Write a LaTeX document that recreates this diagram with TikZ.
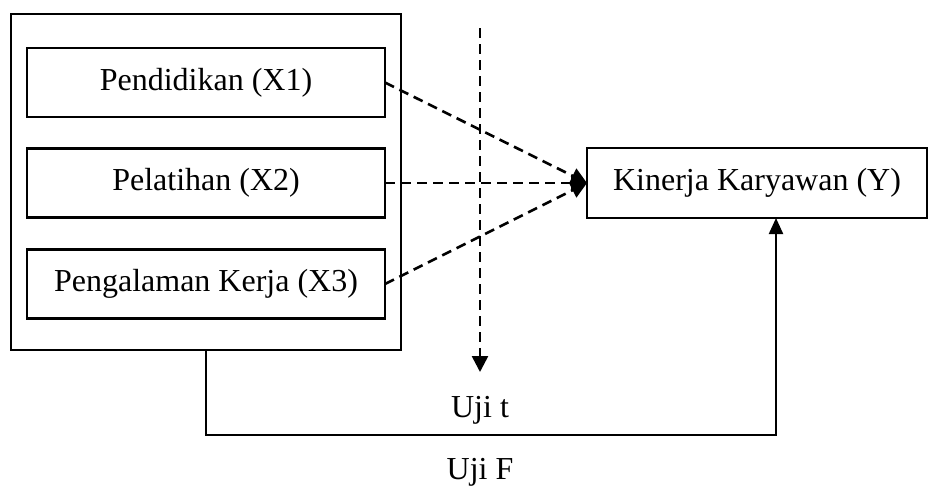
\documentclass[tikz,border=0pt]{standalone}
\usepackage{fontspec}
\setmainfont{Liberation Serif}
\usetikzlibrary{arrows.meta}

\begin{document}
\begin{tikzpicture}[x=0.5pt, y=-0.5pt,
    kotak/.style={draw, line width=1.1pt, 
        minimum width=179pt, minimum height=34.5pt,
        font=\fontsize{16}{19}\selectfont, outer sep=0pt},
    luar/.style={draw, line width=1.1pt, 
        minimum width=195pt, minimum height=168pt,
        outer sep=0pt},
    garis/.style={line width=1.3pt, dash pattern=on 5pt off 3pt,
        -{Triangle[length=8pt,width=8pt]}},
    panah/.style={line width=1.1pt, -{Triangle[length=8pt,width=7pt]}},
    lbl/.style={font=\fontsize{16}{19}\selectfont}
    ]
    \useasboundingbox (0,0) rectangle (931,489);
    \node[luar] (outer) at (206,182) {};
    \node[kotak] (x1) at (206,82.5) {Pendidikan (X1)};
    \node[kotak] (x2) at (206,183) {Pelatihan (X2)};
    \node[kotak] (x3) at (206,284) {Pengalaman Kerja (X3)};
    \node[kotak, minimum width=170pt, minimum height=35pt] (y) at (757,183) {Kinerja Karyawan (Y)};
    % uji t
    \coordinate (ttop) at (480,28);
    \coordinate (tbot) at (480,372);
    \draw[garis] (ttop) -- (tbot);
    \node[lbl] (ujit) at (480,410) {Uji t};
    \draw[garis] (x1.east) -- (y.west);
    \draw[garis] (x2.east) -- (y.west);
    \draw[garis] (x3.east) -- (y.west);
    % uji F
    \coordinate (turn) at (776,435);
    \draw[panah] (outer.south) |- (turn) -- (turn |- y.south);
    \node[lbl] (ujif) at (480,472) {Uji F};
\end{tikzpicture}
\end{document}
